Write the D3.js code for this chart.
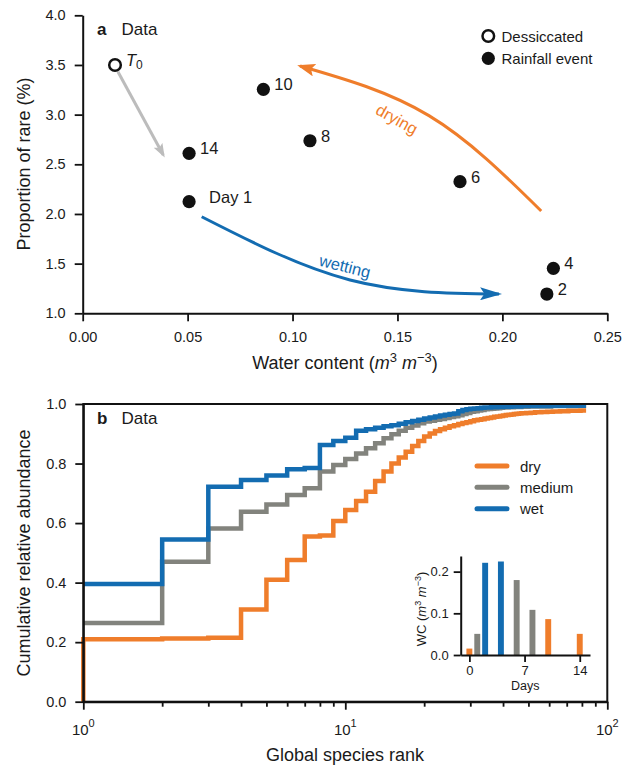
<!DOCTYPE html>
<html>
<head>
<meta charset="utf-8">
<script src="https://cdn.jsdelivr.net/npm/d3@7"></script>
<style>
body { margin: 0; background: #fff; }
svg text { font-family: "Liberation Sans", Arial, sans-serif; fill: #1a1a1a; }
</style>
</head>
<body>
<svg id="chart" width="633" height="765"></svg>
<script>
// colours
var cDry = '#ef7d2b', cMed = '#82837d', cWet = '#136cb1';

// panel a: rainfall events
var eventDays = [0, 1, 2, 4, 6, 8, 10, 14];
var waterContent = [0.0154, 0.0507, 0.2212, 0.2243, 0.1798, 0.1083, 0.0861, 0.0507];
var rareProp = [3.50, 2.124, 1.194, 1.453, 2.325, 2.737, 3.255, 2.61];
var pointLabels = ['T0', 'Day 1', '2', '4', '6', '8', '10', '14'];
var moisture = ['dry', 'medium', 'wet', 'wet', 'medium', 'medium', 'dry', 'dry'];

var xTicksA = [0, 0.05, 0.10, 0.15, 0.20, 0.25];
var yTicksA = [1.0, 1.5, 2.0, 2.5, 3.0, 3.5, 4.0];

// annotation arrows (data units): start, middle, tip
var startArrow = [[0.0168, 3.432], [0.0384, 2.594]];
var dryingArrow = [[0.2185, 2.03], [0.165, 2.99], [0.1036, 3.49]];
var wettingArrow = [[0.0567, 1.972], [0.1274, 1.335], [0.1984, 1.194]];

// panel b: cumulative relative abundance by global species rank (rank 1..82)
var dryCum = [0.210, 0.212, 0.215, 0.310, 0.410, 0.476, 0.555, 0.558, 0.607, 0.644,
  0.674, 0.705, 0.741, 0.773, 0.800, 0.820, 0.840, 0.859, 0.876, 0.891,
  0.901, 0.909, 0.915, 0.920, 0.925, 0.929, 0.933, 0.936, 0.939, 0.942,
  0.945, 0.947, 0.949, 0.951, 0.953, 0.955, 0.957, 0.958, 0.960, 0.961,
  0.963, 0.964, 0.965, 0.966, 0.967, 0.968, 0.969, 0.969, 0.970, 0.970,
  0.971, 0.971, 0.972, 0.972, 0.972, 0.973, 0.973, 0.973, 0.974, 0.974,
  0.974, 0.975, 0.975, 0.975, 0.975, 0.976, 0.976, 0.976, 0.976, 0.976,
  0.977, 0.977, 0.977, 0.977, 0.977, 0.977, 0.977, 0.977, 0.978, 0.978, 0.978, 0.978];
var mediumCum = [0.264, 0.470, 0.582, 0.638, 0.662, 0.694, 0.717, 0.773, 0.795, 0.815,
  0.834, 0.851, 0.868, 0.885, 0.898, 0.910, 0.920, 0.928, 0.935, 0.941,
  0.944, 0.947, 0.950, 0.953, 0.956, 0.959, 0.962, 0.966, 0.970, 0.974,
  0.976, 0.978, 0.980, 0.982, 0.983, 0.984, 0.985, 0.986, 0.987, 0.988,
  0.988, 0.989, 0.989, 0.990, 0.990, 0.990, 0.991, 0.991, 0.991, 0.992,
  0.992, 0.992, 0.992, 0.992, 0.992, 0.992, 0.992, 0.992, 0.992, 0.992,
  0.993, 0.993, 0.993, 0.993, 0.993, 0.993, 0.993, 0.993, 0.993, 0.993,
  0.993, 0.993, 0.993, 0.993, 0.993, 0.994, 0.994, 0.994, 0.994, 0.994, 0.994, 0.994];
var wetCum = [0.395, 0.545, 0.722, 0.745, 0.760, 0.781, 0.785, 0.862, 0.876, 0.887,
  0.910, 0.915, 0.920, 0.925, 0.929, 0.934, 0.939, 0.943, 0.947, 0.951,
  0.955, 0.958, 0.961, 0.964, 0.966, 0.968, 0.976, 0.980, 0.982, 0.984,
  0.985, 0.986, 0.987, 0.988, 0.988, 0.989, 0.989, 0.990, 0.990, 0.991,
  0.991, 0.991, 0.992, 0.992, 0.992, 0.992, 0.993, 0.993, 0.993, 0.993,
  0.993, 0.993, 0.993, 0.993, 0.993, 0.993, 0.993, 0.993, 0.993, 0.993,
  0.994, 0.994, 0.994, 0.994, 0.994, 0.994, 0.994, 0.994, 0.994, 0.994,
  0.994, 0.994, 0.994, 0.994, 0.994, 0.994, 0.994, 0.994, 0.994, 0.994, 0.994, 0.994];
var seriesNames = ['dry', 'medium', 'wet'];
var seriesColors = [cDry, cMed, cWet];

var yTicksB = [0, 0.2, 0.4, 0.6, 0.8, 1.0];
var xMajorB = [1, 10, 100];
var xMinorB = [2, 3, 4, 5, 6, 7, 8, 9, 20, 30, 40, 50, 60, 70, 80, 90];

// inset
var xTicksI = [0, 7, 14];
var yTicksI = [0, 0.1, 0.2];

var svg = d3.select('#chart');
var defs = svg.append('defs');

function styleAxis(g, fs) {
  g.select('.domain').attr('stroke', '#111').attr('stroke-width', 2);
  g.selectAll('.tick line').attr('stroke', '#111').attr('stroke-width', 1.8);
  g.selectAll('.tick text').attr('font-size', fs).style('fill', '#1a1a1a')
    .attr('font-family', '"Liberation Sans", Arial, sans-serif');
}

function addMarker(id, color, len, wid) {
  defs.append('marker')
    .attr('id', id)
    .attr('markerUnits', 'userSpaceOnUse')
    .attr('viewBox', '0 0 ' + len + ' ' + wid)
    .attr('markerWidth', len).attr('markerHeight', wid)
    .attr('refX', len - 3).attr('refY', wid / 2)
    .attr('orient', 'auto')
    .append('path')
    .attr('d', 'M0,0 L' + len + ',' + (wid / 2) + ' L0,' + wid + ' L' + (len * 0.2) + ',' + (wid / 2) + ' Z')
    .attr('fill', color);
}
addMarker('headGray', '#bcbcbc', 14, 10);
addMarker('headDry', cDry, 18, 13);
addMarker('headWet', cWet, 22, 13);

// ---------------- panel a ----------------
var xA = d3.scaleLinear().domain([0, 0.25]).range([82.7, 607.3]);
var yA = d3.scaleLinear().domain([1, 4]).range([313.3, 15.3]);

var gA = svg.append('g');

var ax = gA.append('g').attr('transform', 'translate(0,313.3)')
  .call(d3.axisBottom(xA).tickValues(xTicksA).tickFormat(d3.format('.2f'))
    .tickSize(8).tickPadding(10).tickSizeOuter(0));
styleAxis(ax, 14.5);
var ay = gA.append('g').attr('transform', 'translate(82.7,0)')
  .call(d3.axisLeft(yA).tickValues(yTicksA).tickFormat(d3.format('.1f'))
    .tickSize(8).tickPadding(9).tickSizeOuter(0));
styleAxis(ay, 14.5);

// axis titles
var xt = gA.append('text').attr('x', 345).attr('y', 369).attr('text-anchor', 'middle').attr('font-size', 18);
xt.append('tspan').text('Water content (');
xt.append('tspan').attr('font-style', 'italic').text('m');
xt.append('tspan').attr('font-size', 13).attr('dy', -7).text('3');
xt.append('tspan').attr('dy', 7).text(' ');
xt.append('tspan').attr('font-style', 'italic').text('m');
xt.append('tspan').attr('font-size', 13).attr('dy', -7).text('\u22123');
xt.append('tspan').attr('dy', 7).text(')');

gA.append('text').attr('transform', 'translate(30,164) rotate(-90)')
  .attr('text-anchor', 'middle').attr('font-size', 18).text('Proportion of rare (%)');

// panel label
var la = gA.append('text').attr('x', 97).attr('y', 35).attr('font-size', 17);
la.append('tspan').attr('font-weight', 'bold').text('a');
la.append('tspan').attr('x', 121.5).text('Data');

// arrows
var lineA = d3.line().x(function(d) { return xA(d[0]); }).y(function(d) { return yA(d[1]); })
  .curve(d3.curveNatural);
gA.append('path').attr('d', lineA(startArrow)).attr('fill', 'none')
  .attr('stroke', '#bcbcbc').attr('stroke-width', 3).attr('marker-end', 'url(#headGray)');
gA.append('path').attr('d', lineA(dryingArrow)).attr('fill', 'none')
  .attr('stroke', cDry).attr('stroke-width', 3).attr('marker-end', 'url(#headDry)');
gA.append('path').attr('d', lineA(wettingArrow)).attr('fill', 'none')
  .attr('stroke', cWet).attr('stroke-width', 3).attr('marker-end', 'url(#headWet)');

gA.append('text')
  .attr('transform', 'translate(' + xA(0.1498) + ',' + yA(2.956) + ') rotate(29)')
  .attr('text-anchor', 'middle').attr('dominant-baseline', 'central')
  .attr('font-size', 16.5).style('fill', cDry).text('drying');
gA.append('text')
  .attr('transform', 'translate(' + xA(0.125) + ',' + yA(1.476) + ') rotate(14)')
  .attr('text-anchor', 'middle').attr('dominant-baseline', 'central')
  .attr('font-size', 16.5).style('fill', cWet).text('wetting');

// points
var pts = eventDays.map(function(d, i) {
  return { day: d, wc: waterContent[i], rare: rareProp[i], label: pointLabels[i] };
});
gA.selectAll('circle.pt').data(pts).enter().append('circle')
  .attr('class', 'pt')
  .attr('cx', function(d) { return xA(d.wc); })
  .attr('cy', function(d) { return yA(d.rare); })
  .attr('r', function(d) { return d.day === 0 ? 5.8 : 6.6; })
  .attr('fill', function(d) { return d.day === 0 ? '#fff' : '#111'; })
  .attr('stroke', '#111')
  .attr('stroke-width', function(d) { return d.day === 0 ? 2.5 : 0; });

gA.selectAll('text.pl').data(pts).enter().append('text')
  .attr('class', 'pl')
  .attr('x', function(d) { return xA(d.wc) + (d.day === 1 ? 20 : 11); })
  .attr('y', function(d) { return yA(d.rare) + 1; })
  .attr('font-size', 16.5)
  .each(function(d) {
    var t = d3.select(this);
    if (d.label === 'T0') {
      t.append('tspan').attr('font-style', 'italic').text('T');
      t.append('tspan').attr('font-size', 12).attr('dy', 3).text('0');
    } else {
      t.text(d.label);
    }
  });

// legend a
gA.append('circle').attr('cx', 488.3).attr('cy', 36).attr('r', 5.8)
  .attr('fill', '#fff').attr('stroke', '#111').attr('stroke-width', 2.5);
gA.append('circle').attr('cx', 488.3).attr('cy', 58.3).attr('r', 6.6).attr('fill', '#111');
gA.append('text').attr('x', 501.5).attr('y', 41.5).attr('font-size', 15).text('Dessiccated');
gA.append('text').attr('x', 501.5).attr('y', 63.8).attr('font-size', 15).text('Rainfall event');

// ---------------- panel b ----------------
var xB = d3.scaleLog().domain([1, 100]).range([83.3, 607.3]);
var yB = d3.scaleLinear().domain([0, 1]).range([701.7, 404]);
var gB = svg.append('g');

var lineB = d3.line().x(function(d) { return xB(d[0]); }).y(function(d) { return yB(d[1]); })
  .curve(d3.curveStepAfter);

[dryCum, mediumCum, wetCum].forEach(function(arr, k) {
  var p = arr.map(function(v, i) { return [i + 1, v]; });
  p.push([arr.length + 1, arr[arr.length - 1]]);
  if (k === 0) p.unshift([1, 0]);
  gB.append('path').attr('d', lineB(p)).attr('fill', 'none')
    .attr('stroke', seriesColors[k]).attr('stroke-width', 4.5);
});

// frame
gB.append('rect').attr('x', 83.3).attr('y', 404).attr('width', 524).attr('height', 297.7)
  .attr('fill', 'none').attr('stroke', '#111').attr('stroke-width', 2);

var byAx = gB.append('g').attr('transform', 'translate(83.3,0)')
  .call(d3.axisLeft(yB).tickValues(yTicksB).tickFormat(d3.format('.1f'))
    .tickSize(8).tickPadding(9).tickSizeOuter(0));
styleAxis(byAx, 14.5);
var bxMaj = gB.append('g').attr('transform', 'translate(0,701.7)')
  .call(d3.axisBottom(xB).tickValues(xMajorB).tickFormat('').tickSize(8).tickSizeOuter(0));
styleAxis(bxMaj, 14.5);
var bxMin = gB.append('g').attr('transform', 'translate(0,701.7)')
  .call(d3.axisBottom(xB).tickValues(xMinorB).tickFormat('').tickSize(5).tickSizeOuter(0));
styleAxis(bxMin, 14.5);
bxMin.select('.domain').remove();

gB.selectAll('text.xmaj').data(xMajorB).enter().append('text')
  .attr('class', 'xmaj')
  .attr('x', function(d) { return xB(d); }).attr('y', 735)
  .attr('text-anchor', 'middle').attr('font-size', 15)
  .each(function(d) {
    var t = d3.select(this);
    t.append('tspan').text('10');
    t.append('tspan').attr('font-size', 11).attr('dy', -8).text(String(Math.round(Math.log10(d))));
  });

gB.append('text').attr('x', 345).attr('y', 761).attr('text-anchor', 'middle')
  .attr('font-size', 18).text('Global species rank');
gB.append('text').attr('transform', 'translate(30,553) rotate(-90)')
  .attr('text-anchor', 'middle').attr('font-size', 18).text('Cumulative relative abundance');

var lb = gB.append('text').attr('x', 97).attr('y', 423.5).attr('font-size', 17);
lb.append('tspan').attr('font-weight', 'bold').text('b');
lb.append('tspan').attr('x', 121.5).text('Data');

// legend b
var legY = [466, 487.3, 508.8];
seriesNames.forEach(function(n, i) {
  gB.append('line').attr('x1', 477).attr('x2', 507).attr('y1', legY[i]).attr('y2', legY[i])
    .attr('stroke', seriesColors[i]).attr('stroke-width', 5).attr('stroke-linecap', 'round');
  gB.append('text').attr('x', 520).attr('y', legY[i] + 5.5).attr('font-size', 15).text(n);
});

// ---------------- inset ----------------
var xI = d3.scaleLinear().domain([-1.1, 15.3]).range([460.7, 590]);
var yI = d3.scaleLinear().domain([0, 0.2375]).range([655, 556]);
var gI = svg.append('g');
var colorOf = { dry: cDry, medium: cMed, wet: cWet };
var barW = xI(0.75) - xI(0);

gI.selectAll('rect.bar').data(pts).enter().append('rect')
  .attr('class', 'bar')
  .attr('x', function(d) { return xI(d.day) - barW / 2; })
  .attr('y', function(d) { return yI(d.wc); })
  .attr('width', barW)
  .attr('height', function(d) { return yI(0) - yI(d.wc); })
  .attr('fill', function(d, i) { return colorOf[moisture[i]]; });

var ixAx = gI.append('g').attr('transform', 'translate(0,655)')
  .call(d3.axisBottom(xI).tickValues(xTicksI).tickSize(7).tickPadding(4).tickSizeOuter(0));
styleAxis(ixAx, 13);
var iyAx = gI.append('g').attr('transform', 'translate(460.7,0)')
  .call(d3.axisLeft(yI).tickValues(yTicksI).tickFormat(d3.format('.1f')).tickSize(7).tickPadding(5).tickSizeOuter(0));
styleAxis(iyAx, 13);

gI.append('text').attr('x', 525.3).attr('y', 689.5).attr('text-anchor', 'middle')
  .attr('font-size', 12.5).text('Days');
var it = gI.append('text').attr('transform', 'translate(426,609) rotate(-90)')
  .attr('text-anchor', 'middle').attr('font-size', 13);
it.append('tspan').text('WC (');
it.append('tspan').attr('font-style', 'italic').text('m');
it.append('tspan').attr('font-size', 9).attr('dy', -5).text('3');
it.append('tspan').attr('dy', 5).text(' ');
it.append('tspan').attr('font-style', 'italic').text('m');
it.append('tspan').attr('font-size', 9).attr('dy', -5).text('\u22123');
it.append('tspan').attr('dy', 5).text(')');
</script>
</body>
</html>
